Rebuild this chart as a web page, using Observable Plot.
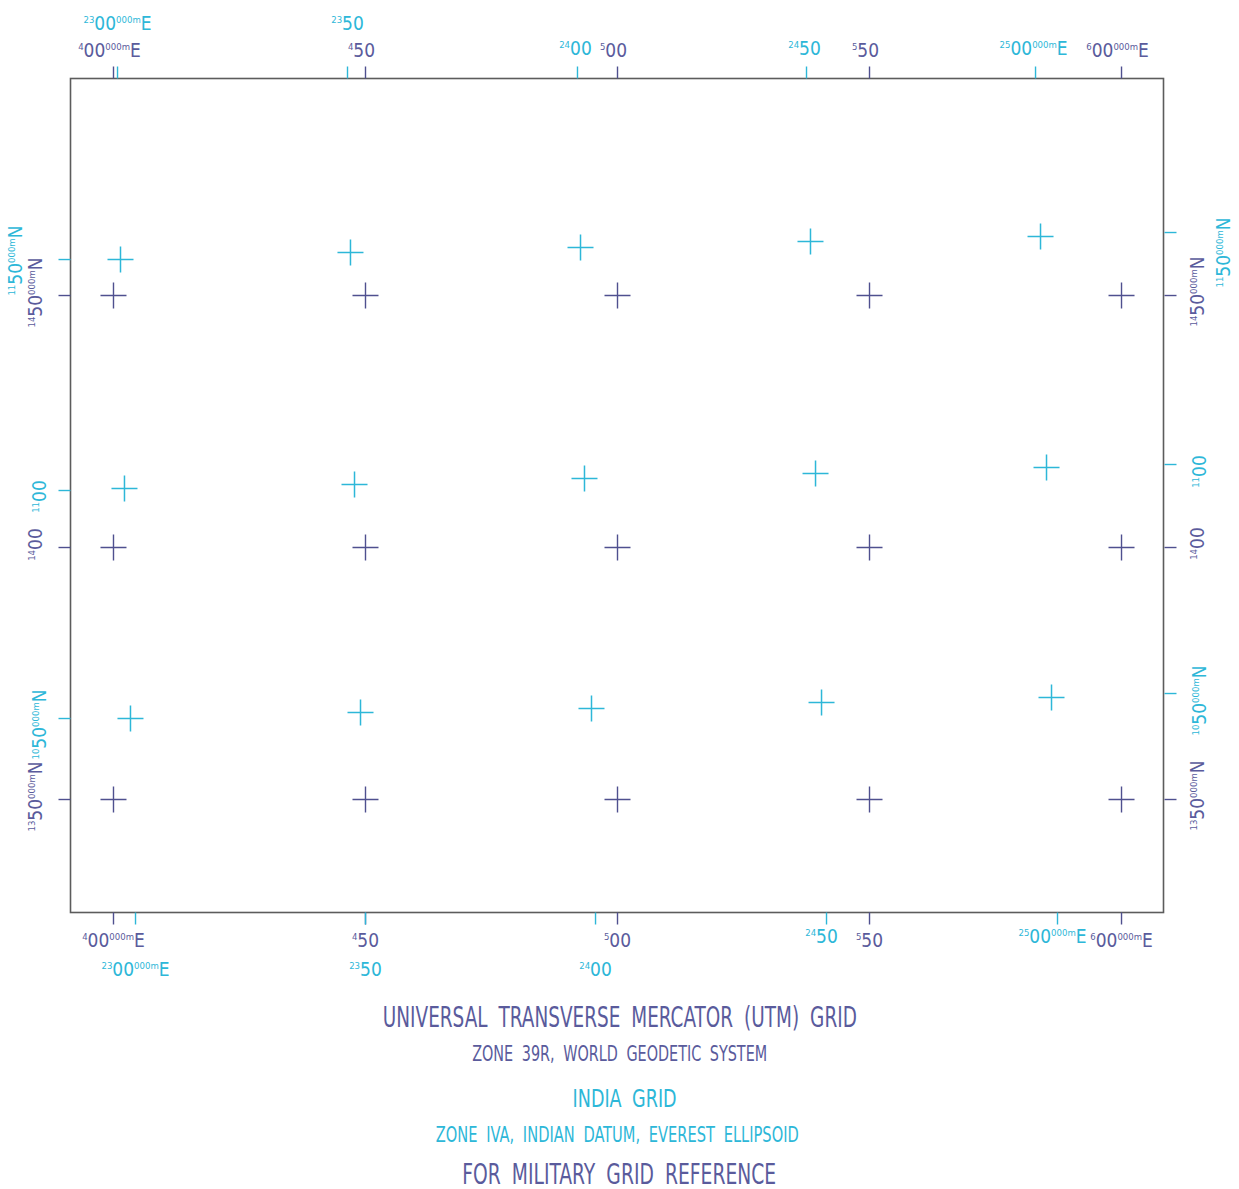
<!DOCTYPE html>
<html>
<head>
<meta charset="utf-8">
<script src="https://cdn.jsdelivr.net/npm/d3@7"></script>
<script src="https://cdn.jsdelivr.net/npm/@observablehq/plot@0.6"></script>
<style>
  html, body { margin: 0; padding: 0; background: #fff; }
  #chart { width: 1239px; height: 990px; }
  #cap { position: relative; width: 1239px; height: 199px; font-family: "Liberation Sans Narrow", "DejaVu Sans Condensed", sans-serif; }
  #cap .line { position: absolute; left: 0; width: 1239px; text-align: center; white-space: nowrap; }
  #cap .line span { display: inline-block; transform-origin: 50% 50%; }
</style>
</head>
<body>
<div id="chart"></div>
<div id="cap"></div>
<script>
// ---------------- DATA ----------------
// Map sheet extent (UTM metres)
const mapExtentE = [391470, 608330];
const mapExtentN = [1327580, 1493060];

// UTM grid (Zone 39R, WGS)
const utmEastings = [400000, 450000, 500000, 550000, 600000];
const utmNorthings = [1450000, 1400000, 1350000];
const utmEastLabels = ["{4}00{000m}E", "{4}50", "{5}00", "{5}50", "{6}00{000m}E"];
const utmNorthLabels = ["{14}50{000m}N", "{14}00", "{13}50{000m}N"];

// India grid (Zone IVA) crosses, located in UTM metres (read from the sheet)
const indiaCrossE = [
  [401390, 447020, 492660, 538290, 583930],
  [402180, 447820, 493450, 539290, 585120],
  [403370, 449010, 494840, 540480, 586110]
];
const indiaCrossN = [
  [1457140, 1458530, 1459520, 1460710, 1461710],
  [1411710, 1412500, 1413690, 1414680, 1415870],
  [1366070, 1367260, 1368060, 1369250, 1370240]
];
// India grid lines where they meet the sheet edges (UTM metres)
const indiaTopTickE = [400800, 446430, 492060, 537500, 582940];
const indiaBottomTickE = [404370, 450000, 495640, 541470, 587300];
const indiaLeftTickN = [1457140, 1411310, 1366070];
const indiaRightTickN = [1462500, 1416470, 1371030];
const indiaEastLabels = ["{23}00{000m}E", "{23}50", "{24}00", "{24}50", "{25}00{000m}E"];
const indiaNorthLabels = ["{11}50{000m}N", "{11}00", "{10}50{000m}N"];

// Caption lines
const captionLines = [
  "UNIVERSAL TRANSVERSE MERCATOR (UTM) GRID",
  "ZONE 39R, WORLD GEODETIC SYSTEM",
  "INDIA GRID",
  "ZONE IVA, INDIAN DATUM, EVEREST ELLIPSOID",
  "FOR MILITARY GRID REFERENCE"
];
const captionGrid = ["utm", "utm", "india", "india", "utm"];

// ---------------- STYLE ----------------
const FONT = '"Liberation Sans Narrow", "DejaVu Sans Condensed", sans-serif';
const UTM = "#4f508f";
const UTM_TEXT = "#5a5b9c";
const INDIA = "#2db7d8";
const FRAME = "#5c5c5c";
const captionStyle = [
  {size: 28, top: 28, width: 474, shift: 0},
  {size: 21, top: 65, width: 295, shift: 0},
  {size: 25, top: 109, width: 104, shift: 5},
  {size: 21, top: 146, width: 363, shift: -2},
  {size: 28, top: 185, width: 314, shift: 0}
];

// ---------------- BUILD ----------------
const utmCrosses = utmNorthings.flatMap(n => utmEastings.map(e => ({E: e, N: n})));
const indiaCrosses = indiaCrossE.flatMap((row, i) => row.map((e, j) => ({E: e, N: indiaCrossN[i][j]})));

const sym = (h, v) => ({
  draw(ctx, size) {
    const r = Math.sqrt(size / Math.PI);
    if (h) { ctx.moveTo(-r, 0); ctx.lineTo(r, 0); }
    if (v) { ctx.moveTo(0, -r); ctx.lineTo(0, r); }
  }
});
const crossSym = sym(true, true), vSym = sym(false, true), hSym = sym(true, false);

const edgeTop = mapExtentN[1], edgeBottom = mapExtentN[0], edgeLeft = mapExtentE[0], edgeRight = mapExtentE[1];
const tick = (data, o) => Plot.dot(data, {fill: "none", strokeWidth: 1.4, r: 6, ...o});
const lbl = (data, o) => Plot.text(data, {text: d => d, fontSize: 19, ...o});
const pick = idx => (d, i) => idx.includes(i);
const shiftX = (vals) => (d, i) => vals[i] ?? 0;

const svg = Plot.plot({
  width: 1239,
  height: 990,
  marginLeft: 70, marginRight: 76, marginTop: 78, marginBottom: 78,
  x: {domain: mapExtentE, axis: null},
  y: {domain: mapExtentN, axis: null},
  style: {fontFamily: FONT, background: "white", overflow: "visible"},
  marks: [
    Plot.frame({stroke: FRAME, strokeWidth: 1.6}),
    // crosses
    Plot.dot(indiaCrosses, {x: "E", y: "N", symbol: crossSym, r: 13, stroke: INDIA, strokeWidth: 1.5, fill: "none"}),
    Plot.dot(utmCrosses, {x: "E", y: "N", symbol: crossSym, r: 13, stroke: UTM, strokeWidth: 1.4, fill: "none"}),
    // edge ticks – UTM
    tick(utmEastings, {x: d => d, y: edgeTop, symbol: vSym, dy: -6, stroke: UTM}),
    tick(utmEastings, {x: d => d, y: edgeBottom, symbol: vSym, dy: 6, stroke: UTM}),
    tick(utmNorthings, {y: d => d, x: edgeLeft, symbol: hSym, dx: -6, stroke: UTM}),
    tick(utmNorthings, {y: d => d, x: edgeRight, symbol: hSym, dx: 7, stroke: UTM}),
    // edge ticks – India
    tick(indiaTopTickE, {x: d => d, y: edgeTop, symbol: vSym, dy: -6, stroke: INDIA}),
    tick(indiaBottomTickE, {x: d => d, y: edgeBottom, symbol: vSym, dy: 6, stroke: INDIA}),
    tick(indiaLeftTickN, {y: d => d, x: edgeLeft, symbol: hSym, dx: -6, stroke: INDIA}),
    tick(indiaRightTickN, {y: d => d, x: edgeRight, symbol: hSym, dx: 7, stroke: INDIA}),
    // labels – UTM eastings
    lbl(utmEastLabels, {x: (d, i) => utmEastings[i], y: edgeTop, dy: -28, dx: -4, fill: UTM_TEXT}),
    lbl(utmEastLabels, {x: (d, i) => utmEastings[i], y: edgeBottom, dy: 28, dx: 0, fill: UTM_TEXT}),
    // labels – UTM northings
    lbl(utmNorthLabels, {y: (d, i) => utmNorthings[i], x: edgeLeft, dx: -35, dy: -3, rotate: -90, fill: UTM_TEXT}),
    lbl(utmNorthLabels, {y: (d, i) => utmNorthings[i], x: edgeRight, dx: 34, dy: -4, rotate: -90, fill: UTM_TEXT}),
    // labels – India eastings (staggered where they would collide)
    lbl(indiaEastLabels, {x: (d, i) => indiaTopTickE[i], y: edgeTop, dy: -55, filter: pick([0, 1]), fill: INDIA}),
    lbl(indiaEastLabels, {x: (d, i) => indiaTopTickE[i], y: edgeTop, dy: -30, dx: -2, filter: pick([2, 3, 4]), fill: INDIA}),
    lbl(indiaEastLabels, {x: (d, i) => indiaBottomTickE[i], y: edgeBottom, dy: 57, filter: pick([0, 1, 2]), fill: INDIA}),
    lbl(indiaEastLabels, {x: (d, i) => indiaBottomTickE[i], y: edgeBottom, dy: 24, dx: -5, filter: pick([3, 4]), fill: INDIA}),
    // labels – India northings
    lbl(indiaNorthLabels, {y: (d, i) => indiaLeftTickN[i], x: edgeLeft, dx: -55, dy: 1, rotate: -90, filter: pick([0]), fill: INDIA}),
    lbl(indiaNorthLabels, {y: (d, i) => indiaLeftTickN[i], x: edgeLeft, dx: -31, dy: 6, rotate: -90, filter: pick([1, 2]), fill: INDIA}),
    lbl(indiaNorthLabels, {y: (d, i) => indiaRightTickN[i], x: edgeRight, dx: 60, dy: 20, rotate: -90, filter: pick([0]), fill: INDIA}),
    lbl(indiaNorthLabels, {y: (d, i) => indiaRightTickN[i], x: edgeRight, dx: 36, dy: 7, rotate: -90, filter: pick([1, 2]), fill: INDIA})
  ]
});

// superscript formatting: "{sup}big{sup}big"
d3.select(svg).selectAll("text").each(function () {
  const s = this.textContent;
  if (!s.includes("{")) return;
  const parts = [];
  const re = /\{([^}]*)\}|([^{]+)/g;
  let m;
  while ((m = re.exec(s))) parts.push(m[1] !== undefined ? {t: m[1], sup: true} : {t: m[2], sup: false});
  this.textContent = "";
  let raised = false;
  for (const p of parts) {
    const ts = d3.select(this).append("tspan").text(p.t);
    if (p.sup) {
      ts.attr("font-size", 9.5);
      if (!raised) { ts.attr("dy", -6.8); raised = true; }
    } else if (raised) {
      ts.attr("dy", 6.8); raised = false;
    }
  }
});

document.getElementById("chart").appendChild(svg);

// caption
const cap = d3.select("#cap");
captionLines.forEach((t, i) => {
  const st = captionStyle[i];
  const line = cap.append("div").attr("class", "line")
    .style("top", (st.top - st.size * 0.6) + "px")
    .style("left", st.shift + "px")
    .style("line-height", (st.size * 1.2) + "px")
    .style("font-size", st.size + "px")
    .style("color", captionGrid[i] === "utm" ? UTM_TEXT : INDIA);
  const span = line.append("span").style("word-spacing", "0.25em").text(t);
  const w = span.node().getBoundingClientRect().width;
  span.style("transform", `scaleX(${st.width / w})`);
});
</script>
</body>
</html>
